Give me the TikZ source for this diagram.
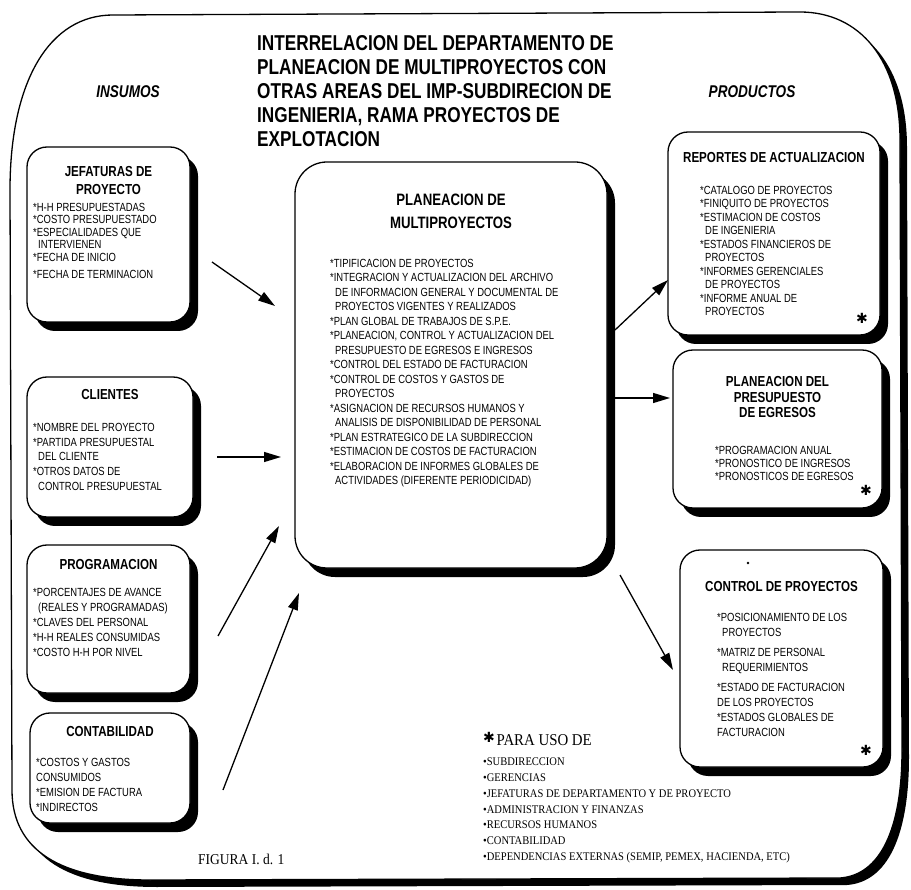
\documentclass[tikz,border=0pt]{standalone}
\usepackage{fontspec}
\setmainfont{Liberation Sans}
\newfontfamily\cf[FakeStretch=0.8]{Liberation Sans}
\newfontfamily\legfont[FakeStretch=0.9]{Liberation Serif}
\newfontfamily\djv{DejaVu Sans}
\usetikzlibrary{arrows.meta,shadows}
\tikzset{
  box/.style={draw=black, line width=1.3pt, fill=white, rounded corners=20pt,
    drop shadow={shadow xshift=8pt, shadow yshift=-9pt, fill=black, opacity=1}},
  ttl/.style={font=\cf\bfseries\fontsize{14.5}{15.5}\selectfont, align=center, inner sep=0pt},
  bigttl/.style={font=\cf\bfseries\fontsize{21.5}{24}\selectfont, inner sep=0pt, anchor=base west},
  side/.style={font=\cf\bfseries\itshape\fontsize{17}{17}\selectfont, inner sep=0pt},
  itm/.style={font=\cf\fontsize{11.8}{13}\selectfont, align=left, inner sep=0pt, anchor=north west},
  arr/.style={line width=1.3pt, -{Triangle[length=17pt,width=10pt]}},
  star/.style={font=\djv\fontsize{14}{14}\selectfont, inner sep=0pt},
}
\begin{document}
\begin{tikzpicture}[x=1pt,y=-1pt]
\useasboundingbox (0,0) rectangle (911,890);
% outer frame with shadow
\fill[black] (120,22) -- (807,19) .. controls (867,19) and (907,67) .. (907,147) -- (909,757) .. controls (909,837) and (887,882) .. (847,885) -- (157,887) .. controls (67,887) and (19,857) .. (19,797) -- (17,197) .. controls (17,87) and (57,22) .. (120,22) -- cycle;
\draw[line width=1.3pt, fill=white] (113,15) -- (800,12) .. controls (860,12) and (900,60) .. (900,140) -- (902,750) .. controls (902,830) and (880,875) .. (840,878) -- (150,880) .. controls (60,880) and (12,850) .. (12,790) -- (10,190) .. controls (10,80) and (50,15) .. (113,15) -- cycle;

% title
\node[bigttl] (t1) at (257,51) {INTERRELACION DEL DEPARTAMENTO DE};
\node[bigttl] (t2) at (257,75) {PLANEACION DE MULTIPROYECTOS CON};
\node[bigttl] (t3) at (257,99) {OTRAS AREAS DEL IMP-SUBDIRECION DE};
\node[bigttl] (t4) at (257,123) {INGENIERIA, RAMA PROYECTOS DE};
\node[bigttl] (t5) at (257,147) {EXPLOTACION};
\node[side] (ins) at (128,92) {INSUMOS};
\node[side] (pro) at (752,92) {PRODUCTOS};

% boxes
\node[box, minimum width=163pt, minimum height=175pt] (jef) at (108.5,234.5) {};
\node[box, minimum width=166pt, minimum height=140pt] (cli) at (110,447) {};
\node[box, minimum width=163pt, minimum height=148pt] (prog) at (108.5,619) {};
\node[box, minimum width=160pt, minimum height=110pt] (cont) at (110,768) {};
\node[box, minimum width=312pt, minimum height=406pt, rounded corners=32pt] (cen) at (451,365) {};
\node[box, minimum width=212pt, minimum height=203pt] (rep) at (774,233.5) {};
\node[box, minimum width=209pt, minimum height=158pt] (pre) at (777.5,429) {};
\node[box, minimum width=203pt, minimum height=217pt] (ctrl) at (781.5,658.5) {};

% left box texts
\node[ttl, font=\cf\bfseries\fontsize{14.5}{18}\selectfont] (jeft) at (108.5,181) {JEFATURAS DE\\PROYECTO};
\node[itm, font=\cf\fontsize{11.8}{12.5}\selectfont] (jefi) at (33,203) {*H-H PRESUPUESTADAS\\*COSTO PRESUPUESTADO\\*ESPECIALIDADES QUE\\\hspace*{5pt}INTERVIENEN\\*FECHA DE INICIO\\[5pt]*FECHA DE TERMINACION};

\node[ttl] (clit) at (110,395) {CLIENTES};
\node[itm, font=\cf\fontsize{11.8}{14.7}\selectfont] (clii) at (33,423) {*NOMBRE DEL PROYECTO\\*PARTIDA PRESUPUESTAL\\\hspace*{5pt}DEL CLIENTE\\*OTROS DATOS DE\\\hspace*{5pt}CONTROL PRESUPUESTAL};

\node[ttl] (progt) at (108.5,565) {PROGRAMACION};
\node[itm, font=\cf\fontsize{11.8}{15}\selectfont] (progi) at (33,588) {*PORCENTAJES DE AVANCE\\\hspace*{5pt}(REALES Y PROGRAMADAS)\\*CLAVES DEL PERSONAL\\*H-H REALES CONSUMIDAS\\*COSTO H-H POR NIVEL};

\node[ttl] (contt) at (110,732) {CONTABILIDAD};
\node[itm, font=\cf\fontsize{11.8}{15}\selectfont] (conti) at (36,758) {*COSTOS Y GASTOS\\CONSUMIDOS\\*EMISION DE FACTURA\\*INDIRECTOS};

% center texts
\node[ttl, font=\cf\bfseries\fontsize{16.5}{23}\selectfont] (cent) at (451,211.5) {PLANEACION DE\\MULTIPROYECTOS};
\node[itm, font=\cf\fontsize{11.8}{14.5}\selectfont] (ceni) at (330,259) {*TIPIFICACION DE PROYECTOS\\*INTEGRACION Y ACTUALIZACION DEL ARCHIVO\\\hspace*{5pt}DE INFORMACION GENERAL Y DOCUMENTAL DE\\\hspace*{5pt}PROYECTOS VIGENTES Y REALIZADOS\\*PLAN GLOBAL DE TRABAJOS DE S.P.E.\\*PLANEACION, CONTROL Y ACTUALIZACION DEL\\\hspace*{5pt}PRESUPUESTO DE EGRESOS E INGRESOS\\*CONTROL DEL ESTADO DE FACTURACION\\*CONTROL DE COSTOS Y GASTOS DE\\\hspace*{5pt}PROYECTOS\\*ASIGNACION DE RECURSOS HUMANOS Y\\\hspace*{5pt}ANALISIS DE DISPONIBILIDAD DE PERSONAL\\*PLAN ESTRATEGICO DE LA SUBDIRECCION\\*ESTIMACION DE COSTOS DE FACTURACION\\*ELABORACION DE INFORMES GLOBALES DE\\\hspace*{5pt}ACTIVIDADES (DIFERENTE PERIODICIDAD)};

% right box texts
\node[ttl] (rept) at (774,158) {REPORTES DE ACTUALIZACION};
\node[itm, font=\cf\fontsize{11.8}{13.5}\selectfont] (repi) at (700,186) {*CATALOGO DE PROYECTOS\\*FINIQUITO DE PROYECTOS\\*ESTIMACION DE COSTOS\\\hspace*{5pt}DE INGENIERIA\\*ESTADOS FINANCIEROS DE\\\hspace*{5pt}PROYECTOS\\*INFORMES GERENCIALES\\\hspace*{5pt}DE PROYECTOS\\*INFORME ANUAL DE\\\hspace*{5pt}PROYECTOS};
\node[star] (reps) at (862,318) {✱};

\node[ttl] (pret) at (777.5,397.5) {PLANEACION DEL\\PRESUPUESTO\\DE EGRESOS};
\node[itm, font=\cf\fontsize{11.8}{13}\selectfont] (prei) at (715,446) {*PROGRAMACION ANUAL\\*PRONOSTICO DE INGRESOS\\*PRONOSTICOS DE EGRESOS};
\node[star] (pres) at (866,490) {✱};

\fill (748,563) circle (1.3pt);
\node[ttl] (ctrlt) at (781.5,587) {CONTROL DE PROYECTOS};
\node[itm, font=\cf\fontsize{11.8}{15}\selectfont] (ctrli) at (717,613) {*POSICIONAMIENTO DE LOS\\\hspace*{5pt}PROYECTOS\\[5pt]*MATRIZ DE PERSONAL\\\hspace*{5pt}REQUERIMIENTOS\\[5pt]*ESTADO DE FACTURACION\\DE LOS PROYECTOS\\*ESTADOS GLOBALES DE\\FACTURACION};
\node[star] (ctrls) at (866,750) {✱};

% arrows
\coordinate (a1s) at (212,262); \coordinate (a1e) at (275,306);
\coordinate (a2s) at (217,457); \coordinate (a2e) at (281,457);
\coordinate (a3s) at (218,636); \coordinate (a3e) at (279,526);
\coordinate (a4s) at (223,790); \coordinate (a4e) at (299,593);
\coordinate (a5s) at (615,330); \coordinate (a5e) at (668,280);
\coordinate (a6s) at (615,398); \coordinate (a6e) at (670,398);
\coordinate (a7s) at (620,575); \coordinate (a7e) at (673,670);
\draw[arr] (a1s) -- (a1e);
\draw[arr] (a2s) -- (a2e);
\draw[arr] (a3s) -- (a3e);
\draw[arr] (a4s) -- (a4e);
\draw[arr] (a5s) -- (a5e);
\draw[arr] (a6s) -- (a6e);
\draw[arr] (a7s) -- (a7e);

% legend
\node[anchor=base west, inner sep=0pt] (leg0) at (483,745) {{\djv\fontsize{14}{14}\selectfont\raisebox{3pt}{✱}}\,{\legfont\fontsize{16.5}{16.5}\selectfont PARA USO DE}};
\node[itm, font=\legfont\fontsize{11.7}{15.7}\selectfont] (legi) at (483,758) {•SUBDIRECCION\\•GERENCIAS\\•JEFATURAS DE DEPARTAMENTO Y DE PROYECTO\\•ADMINISTRACION Y FINANZAS\\•RECURSOS HUMANOS\\•CONTABILIDAD\\•DEPENDENCIAS EXTERNAS (SEMIP, PEMEX, HACIENDA, ETC)};
\node[anchor=base west, inner sep=0pt, font=\legfont\fontsize{15}{15}\selectfont] (fig) at (198,864) {FIGURA I. d. 1};
\end{tikzpicture}
\end{document}
